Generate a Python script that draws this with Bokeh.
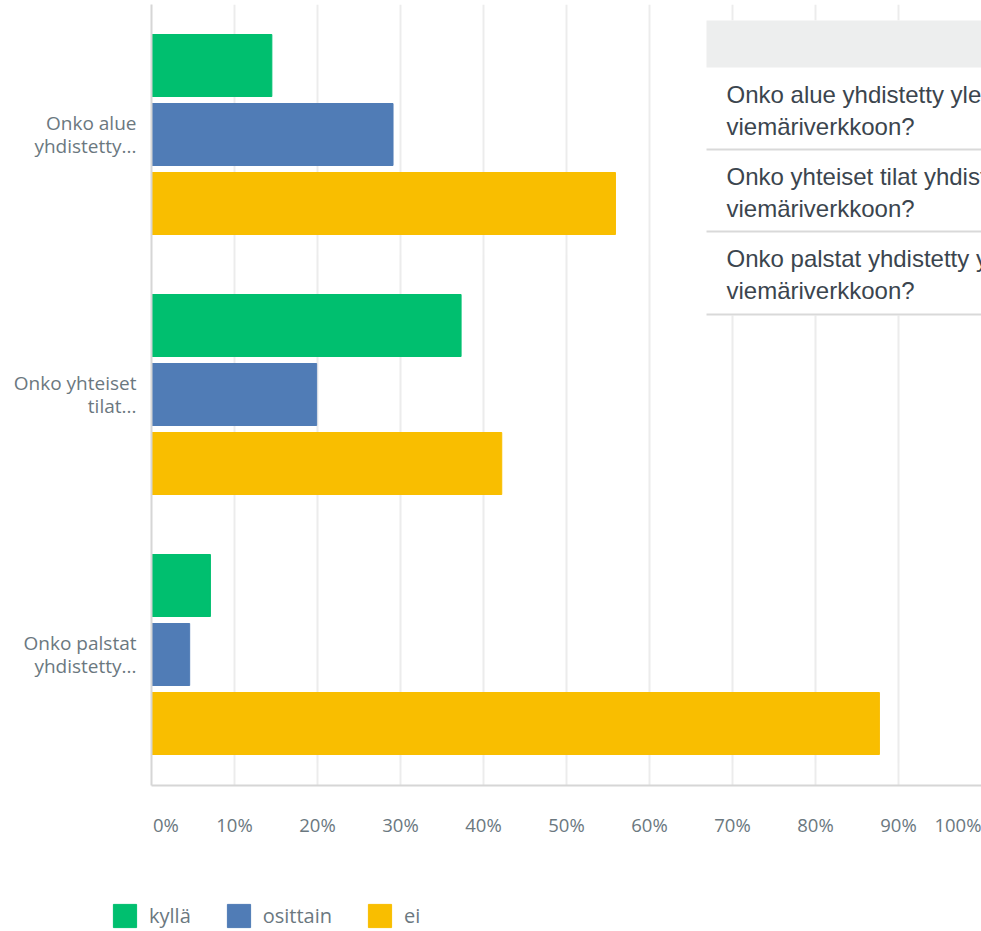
from bokeh.plotting import figure
from bokeh.layouts import column
from bokeh.models import Range1d, FixedTicker, Legend, LegendItem, BoxAnnotation, ColumnDataSource
from bokeh.embed import file_html
from bokeh.resources import INLINE
from bokeh.core.properties import value

# ---- data ----
categories = [
    "Onko alue yhdistetty yleiseen viemäriverkkoon?",
    "Onko yhteiset tilat yhdistetty yleiseen viemäriverkkoon?",
    "Onko palstat yhdistetty yleiseen viemäriverkkoon?",
]
axis_labels = ["Onko alue\nyhdistetty...", "Onko yhteiset\ntilat...", "Onko palstat\nyhdistetty..."]
table_text = [
    "Onko alue yhdistetty yleiseen\nviemäriverkkoon?",
    "Onko yhteiset tilat yhdistetty\nviemäriverkkoon?",
    "Onko palstat yhdistetty yleiseen\nviemäriverkkoon?",
]
series = ["kyllä", "osittain", "ei"]
kylla = [14.5, 37.3, 7.1]
osittain = [29.1, 19.9, 4.6]
ei = [55.9, 42.2, 87.7]
x_ticks = [0, 10, 20, 30, 40, 50, 60, 70, 80, 90, 100]

colors = ["#00bf6f", "#507cb6", "#f9be00"]
values_by_series = [kylla, osittain, ei]

# ---- layout constants ----
W = 981
H_MAIN = 860
H_LEG = 71
FRAME_LEFT = 151
FRAME_TOP = 4
FRAME_BOTTOM = 785
CAT_PX = 260.0            # px per category
Y_END = -(134 - FRAME_TOP) / CAT_PX
Y_START = Y_END + (FRAME_BOTTOM - FRAME_TOP) / CAT_PX
PX_PER_PCT = (W - FRAME_LEFT) / 100.0


def xd(px):  # figure px -> data x
    return (px - FRAME_LEFT) / PX_PER_PCT


def yd(px):  # figure px -> data y
    return Y_END + (px - FRAME_TOP) / CAT_PX


p = figure(
    width=W, height=H_MAIN,
    x_range=Range1d(0, 100), y_range=Range1d(Y_START, Y_END),
    output_backend="svg", toolbar_location=None,
    min_border_left=FRAME_LEFT, min_border_right=0, min_border_top=FRAME_TOP,
    min_border_bottom=H_MAIN - FRAME_BOTTOM,
)
p.outline_line_color = None
p.background_fill_color = "white"

# grid
p.ygrid.grid_line_color = None
p.xgrid.ticker = FixedTicker(ticks=x_ticks)
p.xgrid.grid_line_color = "#ececec"
p.xgrid.grid_line_width = 2

# table panel (overlay at the top right)
p.add_layout(BoxAnnotation(left=xd(706), right=100, top=yd(20), bottom=yd(315),
                           fill_color="white", fill_alpha=1, line_color=None, level="underlay"))
p.add_layout(BoxAnnotation(left=xd(706), right=100, top=yd(20), bottom=yd(67),
                           fill_color="#edeeee", fill_alpha=1, line_color=None, level="underlay"))
sep_y = [yd(149), yd(231), yd(314)]
p.segment(x0=[xd(706)] * 3, x1=[100] * 3, y0=sep_y, y1=sep_y, line_color="#d9d9d9", line_width=2)
tsrc = ColumnDataSource(dict(x=[xd(726)] * 3, y=[yd(110), yd(192), yd(274)], text=table_text))
p.text(x="x", y="y", text="text", source=tsrc, text_font=value("Liberation Sans"),
       text_font_size="24px", text_color="#3b454e", text_baseline="middle", text_align="left",
       text_line_height=1.16)

# bars
BAR_H = 62 / CAT_PX
OFF = 69 / CAT_PX
for j, (name, vals) in enumerate(zip(series, values_by_series)):
    ys = [i + (j - 1) * OFF for i in range(len(categories))]
    src = ColumnDataSource(dict(y=ys, right=vals, cat=categories))
    p.hbar(y="y", left=0, right="right", height=BAR_H, source=src,
           fill_color=colors[j], line_color=colors[j], line_width=1)

# y axis
p.yaxis.ticker = FixedTicker(ticks=[0, 1, 2])
p.yaxis.major_label_overrides = {i: lab for i, lab in enumerate(axis_labels)}
p.yaxis.major_tick_line_color = None
p.yaxis.minor_tick_line_color = None
p.yaxis.axis_line_color = "#d6d6d6"
p.yaxis.axis_line_width = 2
p.yaxis.major_label_text_font = "Open Sans"
p.yaxis.major_label_text_font_size = "19px"
p.yaxis.major_label_text_color = "#6b787f"
p.yaxis.major_label_standoff = 9
p.yaxis.major_label_text_line_height = 0.9

# x axis
nb = "\u00a0"
overrides = {t: f"{t}%" for t in x_ticks}
overrides[0] = nb * 6 + "0%"
p.xaxis.ticker = FixedTicker(ticks=x_ticks)
p.xaxis.major_label_overrides = overrides
p.xaxis.major_tick_line_color = None
p.xaxis.minor_tick_line_color = None
p.xaxis.axis_line_color = "#d6d6d6"
p.xaxis.axis_line_width = 2
p.xaxis.major_label_text_font = "Open Sans"
p.xaxis.major_label_text_font_size = "18.5px"
p.xaxis.major_label_text_color = "#6b787f"
p.xaxis.major_label_standoff = 20

# legend (separate strip below the chart); proxy renderers lie outside its visible range
pl = figure(width=W, height=H_LEG, output_backend="svg", toolbar_location=None,
            x_axis_location=None, y_axis_location=None,
            min_border_left=0, min_border_right=0, min_border_top=0, min_border_bottom=0,
            x_range=Range1d(0, 100), y_range=Range1d(100, 101))
try:
    pl.frame_align = False
except Exception:
    pass
pl.outline_line_color = None
pl.grid.visible = False
leg_renderers = []
for j, (name, vals) in enumerate(zip(series, values_by_series)):
    r = pl.hbar(y=list(range(len(vals))), right=vals, left=0, height=0.5,
                fill_color=colors[j], line_color=colors[j])
    leg_renderers.append(r)
legend = Legend(
    items=[LegendItem(label=s, renderers=[r]) for s, r in zip(series, leg_renderers)],
    location=(110, 1), orientation="horizontal",
    glyph_width=29, glyph_height=29, label_standoff=10, spacing=33,
    padding=0, margin=0, border_line_color=None, background_fill_alpha=0,
    label_text_font="Open Sans", label_text_font_size="20px", label_text_color="#6b787f",
)
pl.add_layout(legend, "center")

layout = column(p, pl, spacing=0)
open("out.html", "w").write(file_html(layout, INLINE))
